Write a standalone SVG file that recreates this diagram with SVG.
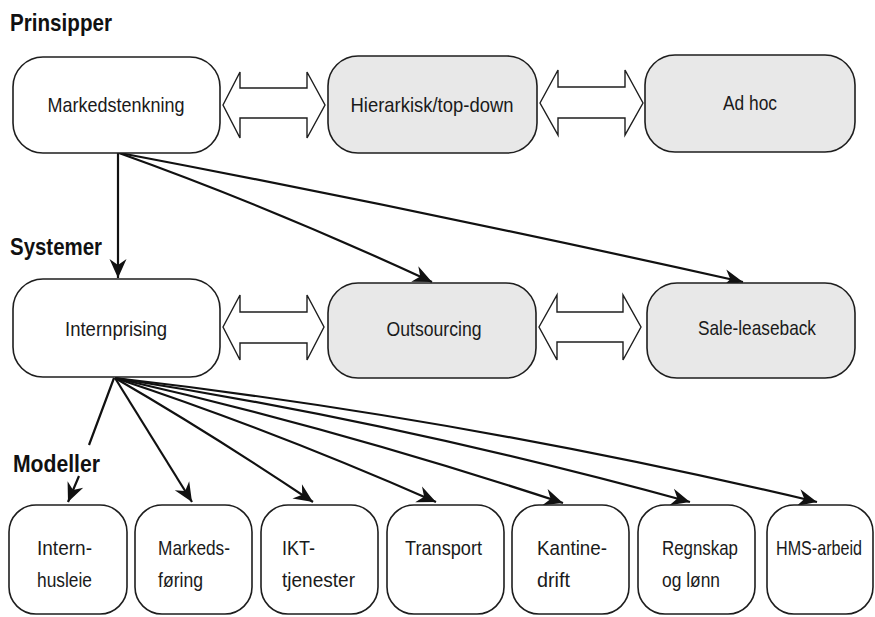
<svg xmlns="http://www.w3.org/2000/svg" width="875" height="617" viewBox="0 0 875 617">
<style>
.box{fill:#ffffff;stroke:#1e1e1e;stroke-width:1.6}
.grey{fill:#e8e8e8}
.t{font-family:"Liberation Sans Narrow","Liberation Sans","DejaVu Sans Condensed",sans-serif;font-size:21px;fill:#1a1a1a}
.m{text-anchor:middle}
.h{font-family:"Liberation Sans Narrow","Liberation Sans","DejaVu Sans Condensed",sans-serif;font-size:24px;font-weight:bold;fill:#111}
.dbl{fill:#ffffff;stroke:#1e1e1e;stroke-width:1.4;stroke-linejoin:miter}
.c{fill:none;stroke:#111;stroke-width:2.2;marker-end:url(#ah)}
</style>
<defs>
<marker id="ah" viewBox="-20 -10 21 20" refX="0" refY="0" markerWidth="21" markerHeight="20" markerUnits="userSpaceOnUse" orient="auto">
<path d="M0,0 L-19,-8.5 L-13,0 L-19,8.5 Z" fill="#111"/>
</marker>
</defs>
<rect width="875" height="617" fill="#ffffff"/>

<g id="labels">
<text class="h" x="10" y="31" textLength="102" lengthAdjust="spacingAndGlyphs">Prinsipper</text>
<text class="h" x="10" y="255" textLength="92" lengthAdjust="spacingAndGlyphs">Systemer</text>
</g>

<g id="connectors">
<path class="c" d="M118,153 L118,278"/>
<path class="c" d="M119,153 Q270,207 432,282"/>
<path class="c" d="M120,153 Q430,212 743,282"/>
<path class="c" d="M114,378 L89,445 M79,476 L68,502"/>
<path class="c" d="M115,378 L192,502"/>
<path class="c" d="M115,378 Q210,433 313,502"/>
<path class="c" d="M115,378 Q272,430 436,502"/>
<path class="c" d="M115,378 Q335,428 563,503"/>
<path class="c" d="M115,378 Q398,422 690,502"/>
<path class="c" d="M115,378 Q462,418 817,502"/>
<polygon class="dbl" points="223,105 240,72 240,88 307,88 307,72 325,105 307,138 307,118 240,118 240,138"/>
<polygon class="dbl" points="540,103 558,70 558,87 625,87 625,70 643,103 625,135 625,118 558,118 558,135"/>
<polygon class="dbl" points="223,327 240,295 240,312 307,312 307,295 324,327 307,360 307,343 240,343 240,360"/>
<polygon class="dbl" points="539,327 557,295 557,312 623,312 623,295 641,327 623,360 623,342 557,342 557,360"/>
</g>

<g id="label-modeller">
<text class="h" x="13" y="472" textLength="87" lengthAdjust="spacingAndGlyphs">Modeller</text>
</g>

<g id="n-markedstenkning">
<rect class="box" x="13" y="57" width="207" height="96" rx="30"/>
<text class="t m" x="116" y="112" textLength="137" lengthAdjust="spacingAndGlyphs">Markedstenkning</text>
</g>
<g id="n-hierarkisk">
<rect class="box grey" x="328" y="56" width="209" height="97" rx="30"/>
<text class="t m" x="432" y="112" textLength="163" lengthAdjust="spacingAndGlyphs">Hierarkisk/top-down</text>
</g>
<g id="n-adhoc">
<rect class="box grey" x="645" y="55" width="210" height="97" rx="30"/>
<text class="t m" x="750" y="110" textLength="54" lengthAdjust="spacingAndGlyphs">Ad hoc</text>
</g>

<g id="n-internprising">
<rect class="box" x="13" y="279" width="207" height="98" rx="30"/>
<text class="t m" x="116" y="336" textLength="102" lengthAdjust="spacingAndGlyphs">Internprising</text>
</g>
<g id="n-outsourcing">
<rect class="box grey" x="328" y="283" width="208" height="95" rx="30"/>
<text class="t m" x="434" y="336" textLength="95" lengthAdjust="spacingAndGlyphs">Outsourcing</text>
</g>
<g id="n-saleleaseback">
<rect class="box grey" x="647" y="283" width="208" height="95" rx="30"/>
<text class="t m" x="757" y="335" textLength="118" lengthAdjust="spacingAndGlyphs">Sale-leaseback</text>
</g>

<g id="n-internhusleie">
<rect class="box" x="9" y="505" width="118" height="109" rx="27"/>
<text class="t" x="37" y="555" textLength="55" lengthAdjust="spacingAndGlyphs">Intern-</text>
<text class="t" x="37" y="587" textLength="55" lengthAdjust="spacingAndGlyphs">husleie</text>
</g>
<g id="n-markedsforing">
<rect class="box" x="135" y="505" width="117" height="109" rx="27"/>
<text class="t" x="158" y="555" textLength="72" lengthAdjust="spacingAndGlyphs">Markeds-</text>
<text class="t" x="158" y="587" textLength="45" lengthAdjust="spacingAndGlyphs">føring</text>
</g>
<g id="n-ikt">
<rect class="box" x="261" y="505" width="117" height="109" rx="27"/>
<text class="t" x="282" y="555" textLength="33" lengthAdjust="spacingAndGlyphs">IKT-</text>
<text class="t" x="282" y="587" textLength="73" lengthAdjust="spacingAndGlyphs">tjenester</text>
</g>
<g id="n-transport">
<rect class="box" x="387" y="505" width="117" height="109" rx="27"/>
<text class="t" x="405" y="555" textLength="77" lengthAdjust="spacingAndGlyphs">Transport</text>
</g>
<g id="n-kantinedrift">
<rect class="box" x="512" y="505" width="117" height="109" rx="27"/>
<text class="t" x="537" y="555" textLength="70" lengthAdjust="spacingAndGlyphs">Kantine-</text>
<text class="t" x="537" y="587" textLength="33" lengthAdjust="spacingAndGlyphs">drift</text>
</g>
<g id="n-regnskap">
<rect class="box" x="638" y="505" width="117" height="109" rx="27"/>
<text class="t" x="662" y="555" textLength="76" lengthAdjust="spacingAndGlyphs">Regnskap</text>
<text class="t" x="662" y="587" textLength="58" lengthAdjust="spacingAndGlyphs">og lønn</text>
</g>
<g id="n-hms">
<rect class="box" x="767" y="505" width="106" height="109" rx="27"/>
<text class="t m" x="819" y="555" font-size="17" textLength="86" lengthAdjust="spacingAndGlyphs">HMS-arbeid</text>
</g>
</svg>
